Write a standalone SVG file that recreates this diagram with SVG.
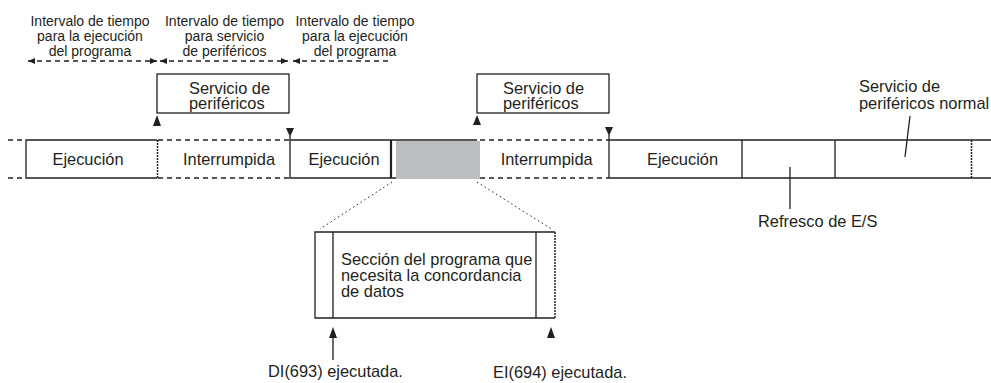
<svg xmlns="http://www.w3.org/2000/svg" width="991" height="383" viewBox="0 0 991 383">
<style>
text{font-family:"Liberation Sans",Arial,sans-serif;fill:#231f20}
.t14{font-size:14px}
.t16{font-size:16.4px}
.mid{text-anchor:middle}
.s{stroke:#231f20;stroke-width:1.3;fill:none}
.d{stroke:#231f20;stroke-width:1.3;fill:none;stroke-dasharray:5 4}
.dot{stroke:#231f20;stroke-width:1.5;fill:none;stroke-dasharray:2 1}
.zl{stroke:#231f20;stroke-width:1;fill:none;stroke-dasharray:1.5 3}
.ah{fill:#231f20;stroke:none}
</style>
<defs>
<marker id="sa" markerUnits="userSpaceOnUse" markerWidth="8" markerHeight="6" refX="7" refY="3" orient="auto-start-reverse">
<path d="M0,0 L7,3 L0,6 z" fill="#231f20"/>
</marker>
</defs>

<g id="intervals">
<g id="interval1">
<text class="t14 mid" x="90" y="25.5">Intervalo de tiempo</text>
<text class="t14 mid" x="90" y="40.5">para la ejecución</text>
<text class="t14 mid" x="90" y="55.5">del programa</text>
</g>
<g id="interval2">
<text class="t14 mid" x="224.5" y="25.5">Intervalo de tiempo</text>
<text class="t14 mid" x="224.5" y="40.5">para servicio</text>
<text class="t14 mid" x="224.5" y="55.5">de periféricos</text>
</g>
<g id="interval3">
<text class="t14 mid" x="355" y="25.5">Intervalo de tiempo</text>
<text class="t14 mid" x="355" y="40.5">para la ejecución</text>
<text class="t14 mid" x="355" y="55.5">del programa</text>
</g>
</g>

<g id="service-box-1">
<rect class="s" x="157" y="74" width="132" height="39"/>
<text class="t16" x="189" y="93.5">Servicio de</text>
<text class="t16" x="189" y="109">periféricos</text>
</g>
<g id="service-box-2">
<rect class="s" x="477" y="74" width="132" height="39"/>
<text class="t16" x="503" y="93.5">Servicio de</text>
<text class="t16" x="503" y="109">periféricos</text>
</g>

<g id="timeline">
<path class="d" d="M8,140 H26 M8,178 H26"/>
<g id="exec1">
<path class="s" d="M157,140 H26 V178 H157"/>
<line class="dot" x1="157.5" y1="140" x2="157.5" y2="178"/>
<text class="t16 mid" x="88" y="165">Ejecución</text>
</g>
<g id="int1">
<path class="d" d="M158,140 H290 M158,178 H290"/>
<text class="t16 mid" x="229" y="165">Interrumpida</text>
</g>
<g id="exec2">
<path class="s" d="M290,140 V178 H396 M290,140 H477"/>
<line x1="391" y1="140" x2="391" y2="178" stroke="#231f20" stroke-width="2.2"/>
<text class="t16 mid" x="344" y="165">Ejecución</text>
</g>
<g id="gray">
<rect x="396" y="141" width="84" height="38" fill="#bdbec0"/>
</g>
<g id="int2">
<path class="d" d="M480,140 H609 M480,178 H609"/>
<text class="t16 mid" x="546.7" y="165">Interrumpida</text>
</g>
<g id="exec3">
<path class="s" d="M609,140 V178 M609,140 H991 M609,178 H991 M742,140 V178 M835,140 V178"/>
<text class="t16 mid" x="682.5" y="165">Ejecución</text>
</g>
<line class="dot" x1="971.5" y1="140" x2="971.5" y2="178"/>
</g>

<g id="detail-box">
<path class="s" d="M555,232 H315 V318 H555"/>
<line class="dot" x1="555" y1="232" x2="555" y2="318"/>
<path class="s" d="M333,232 V318 M536,232 V318"/>
<text class="t16" x="341" y="265">Sección del programa que</text>
<text class="t16" x="341" y="281">necesita la concordancia</text>
<text class="t16" x="341" y="297">de datos</text>
</g>

<g id="labels">
<text class="t16" x="758" y="227">Refresco de E/S</text>
<text class="t16" x="859" y="92">Servicio de</text>
<text class="t16" x="859" y="108.5">periféricos normal</text>
<text class="t16" x="268" y="377">DI(693) ejecutada.</text>
<text class="t16" x="493" y="378">EI(694) ejecutada.</text>
</g>

<g id="connectors">
<line class="d" x1="28" y1="61" x2="157" y2="61" marker-start="url(#sa)" marker-end="url(#sa)"/>
<line class="d" x1="160" y1="61" x2="288" y2="61" marker-start="url(#sa)" marker-end="url(#sa)"/>
<line class="d" x1="293" y1="61" x2="392" y2="61" marker-start="url(#sa)"/>
<polygon class="ah" points="153,126 161,126 157,115"/>
<polygon class="ah" points="286,128 294,128 290,137"/>
<line class="s" x1="290" y1="136" x2="290" y2="140"/>
<polygon class="ah" points="473,125 481,125 477,115"/>
<polygon class="ah" points="605,127 613,127 609,136"/>
<line class="s" x1="609" y1="135" x2="609" y2="140"/>
<line class="s" x1="790" y1="167" x2="790" y2="209"/>
<line class="s" x1="905" y1="157" x2="910" y2="116"/>
<line class="zl" x1="392" y1="182" x2="320" y2="229"/>
<line class="zl" x1="477" y1="182" x2="553" y2="230"/>
<polygon class="ah" points="329,338 337,338 333,327"/>
<line class="s" x1="333" y1="337" x2="333" y2="360"/>
<polygon class="ah" points="547,338 555,338 551,327"/>
</g>
</svg>
